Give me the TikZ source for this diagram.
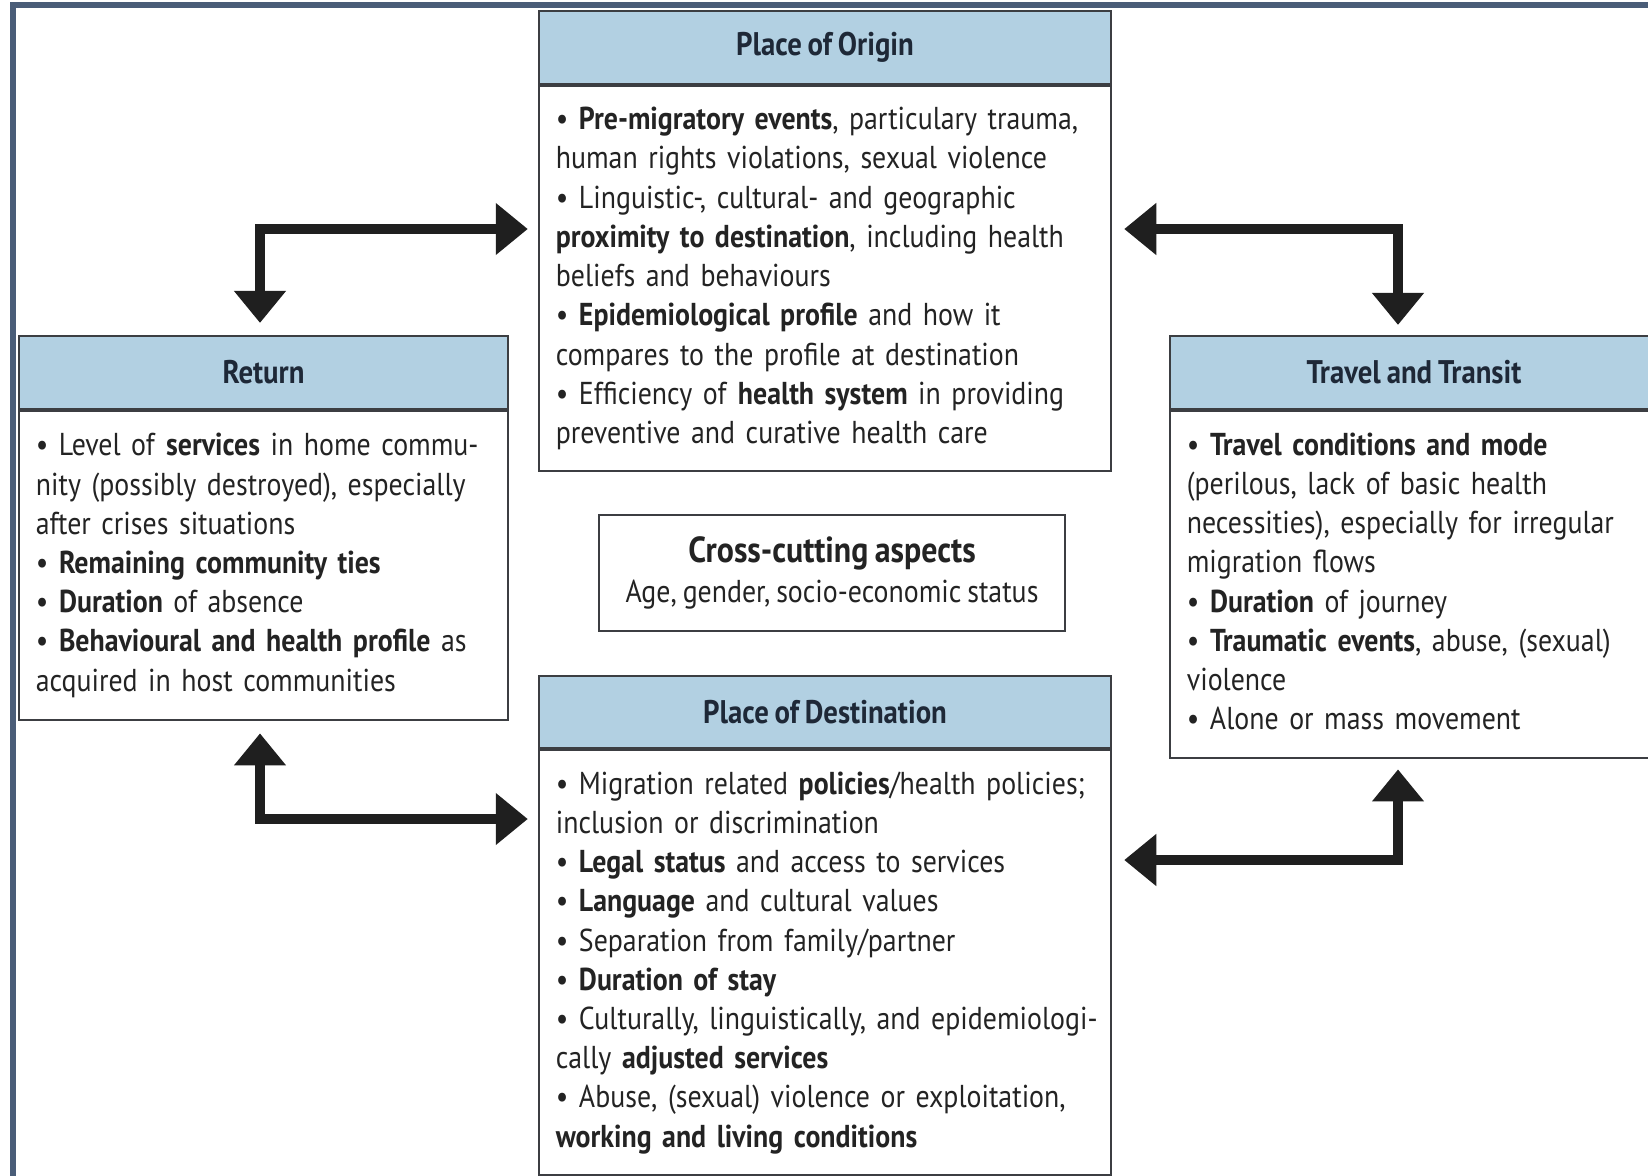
\documentclass[tikz,border=0pt]{standalone}
\usepackage{fontspec}
\setmainfont{PT Sans}[FakeStretch=0.88,WordSpace=0.8]
\usetikzlibrary{arrows.meta}
\definecolor{framegrey}{RGB}{74,93,120}
\definecolor{headblue}{RGB}{178,208,226}
\definecolor{boxline}{RGB}{60,62,66}
\definecolor{inkgrey}{RGB}{35,35,35}
\definecolor{headink}{RGB}{30,40,55}
\newenvironment{lines}{\begin{tabular}{@{}l@{}}}{\end{tabular}}

\begin{document}
\begin{tikzpicture}[x=0.01cm,y=-0.01cm,
    every node/.style={draw=boxline,line width=0.6pt,text=inkgrey,
        font=\fontsize{9pt}{11.15pt}\selectfont},
    head/.style={fill=headblue,text=headink,minimum height=0.73cm,inner sep=0pt,
        font=\fontsize{9.3pt}{11.15pt}\selectfont\bfseries},
    body/.style={anchor=north,align=left,inner xsep=0.17cm,inner ysep=0pt},
    link/.style={line width=0.1cm,draw=black!88,
        {Triangle[width=0.5cm,length=0.32cm]}-{Triangle[width=0.5cm,length=0.32cm]},
        shorten <=0.12cm,shorten >=0.1cm}]
    \path[use as bounding box,fill=white] (0,0) rectangle (1648,1175);
    \clip (0,0) rectangle (1648,1175);
    \draw[framegrey,line width=1.6pt] (13,1190) |- (1660,5);

    % place of origin
    \node[head,minimum width=5.72cm] (origH) at (825,47.5) {Place of Origin};
    \node[body,text width=5.38cm,minimum height=3.85cm] (origB) at (origH.south)
        {\begin{lines}
         • \textbf{Pre-migratory events}, particulary trauma,\\
         human rights violations, sexual violence\\
         • Linguistic-, cultural- and geographic\\
         \textbf{proximity to destination}, including health\\
         beliefs and behaviours\\
         • \textbf{Epidemiological profile} and how it\\
         compares to the profile at destination\\
         • Efficiency of \textbf{health system} in providing\\
         preventive and curative health care
         \end{lines}};

    % return
    \node[head,minimum width=4.89cm] (retH) at (263.5,372.5) {Return};
    \node[body,text width=4.55cm,minimum height=3.09cm] (retB) at (retH.south)
        {\begin{lines}
         • Level of \textbf{services} in home commu-\\
         nity (possibly destroyed), especially\\
         after crises situations\\
         • \textbf{Remaining community ties}\\
         • \textbf{Duration} of absence\\
         • \textbf{Behavioural and health profile} as\\
         acquired in host communities
         \end{lines}};

    % travel and transit
    \node[head,minimum width=4.88cm] (trvH) at (1414,372.5) {Travel and Transit};
    \node[body,text width=4.54cm,minimum height=3.47cm] (trvB) at (trvH.south)
        {\begin{lines}
         • \textbf{Travel conditions and mode}\\
         (perilous, lack of basic health\\
         necessities), especially for irregular\\
         migration flows\\
         • \textbf{Duration} of journey\\
         • \textbf{Traumatic events}, abuse, (sexual)\\
         violence\\
         • Alone or mass movement
         \end{lines}};

    % place of destination
    \node[head,minimum width=5.72cm,minimum height=0.72cm] (destH) at (825,712) {Place of Destination};
    \node[body,text width=5.38cm,minimum height=4.25cm] (destB) at (destH.south)
        {\begin{lines}
         • Migration related \textbf{policies}/health policies;\\
         inclusion or discrimination\\
         • \textbf{Legal status} and access to services\\
         • \textbf{Language} and cultural values\\
         • Separation from family/partner\\
         • \textbf{Duration of stay}\\
         • Culturally, linguistically, and epidemiologi-\\
         cally \textbf{adjusted services}\\
         • Abuse, (sexual) violence or exploitation,\\
         \textbf{working and living conditions}
         \end{lines}};

    % cross-cutting
    \node[align=center,minimum width=4.66cm,minimum height=1.16cm,inner sep=0pt] (cross) at (832,573)
        {{\fontsize{10.3pt}{11.15pt}\selectfont\bfseries Cross-cutting aspects}\\ Age, gender, socio-economic status};

    \coordinate (tl) at (260,229);
    \coordinate (tr) at (1398,229);
    \coordinate (bl) at (260,819);
    \coordinate (br) at (1398,860);
    \draw[link] (retH.north -| tl) |- (origB.west |- tl);
    \draw[link] (origB.east |- tr) -| (trvH.north -| tr);
    \draw[link] (retB.south -| bl) |- (destB.west |- bl);
    \draw[link] (destB.east |- br) -| (trvB.south -| br);
\end{tikzpicture}
\end{document}
